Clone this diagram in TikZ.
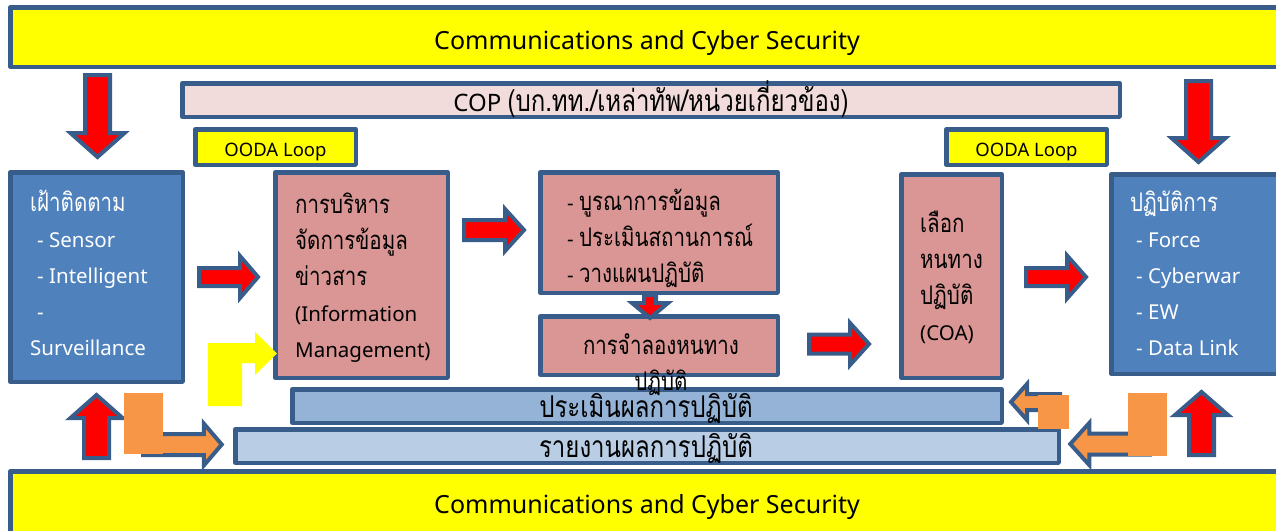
\documentclass[tikz,border=0pt]{standalone}
\usepackage{fontspec}
\setmainfont{Noto Sans}
\newfontfamily\thai[Script=Thai, Scale=1.25, FakeStretch=0.8]{Loma}
\usetikzlibrary{calc}

\definecolor{edge}{HTML}{385D8A}
\definecolor{boxblue}{HTML}{4F81BD}
\definecolor{rose}{HTML}{D99694}
\definecolor{blush}{HTML}{F2DCDB}
\definecolor{barmid}{HTML}{95B3D7}
\definecolor{barlight}{HTML}{B9CDE5}
\definecolor{amber}{HTML}{F79646}
\definecolor{signal}{HTML}{FF0000}
\definecolor{lemon}{HTML}{FFFF00}

% block arrow: [style]{start}{tip}{shaft half width}{head half width}{head length}
\newcommand\blockarrow[6][]{%
  \coordinate (ba-base) at ($(#3)!#6!(#2)$);
  \path[#1] ($(#2)!#4!90:(#3)$) -- ($(ba-base)!#4!-90:(#2)$)
    -- ($(ba-base)!#5!-90:(#2)$) -- (#3) -- ($(ba-base)!#5!90:(#2)$)
    -- ($(ba-base)!#4!90:(#2)$) -- ($(#2)!#4!-90:(#3)$) -- cycle;}

\tikzset{
  panel/.style={rectangle, draw=edge, line width=4.5pt, line join=round, inner sep=0pt},
  strip/.style={panel, fill=lemon},
  redarrow/.style={draw=edge, fill=signal, line width=4pt, line join=miter},
  orangearrow/.style={draw=edge, fill=amber, line width=4pt, line join=miter},
  body/.style={inner sep=0pt, align=left, anchor=north west,
    font=\fontsize{20.5}{36}\selectfont},
  caption/.style={inner sep=0pt, anchor=base},
}
\newcommand\lead{\rule{0pt}{34pt}}

\begin{document}
\begin{tikzpicture}[x=1pt,y=-1pt]
\useasboundingbox (0,0) rectangle (1276,530);
\clip (0,0) rectangle (1276,530);

% bands and boxes
\node[strip, minimum width=1273.5pt, minimum height=59.5pt] (topbar) at (647,37) {};
\node[strip, minimum width=1273.5pt, minimum height=69.5pt] (botbar) at (647,506) {};
\node[panel, fill=blush, minimum width=937.5pt, minimum height=33.5pt] (cop) at (651,100) {};
\node[strip, minimum width=160.5pt, minimum height=35.5pt] (oodaL) at (275.5,147) {};
\node[strip, minimum width=160.5pt, minimum height=35.5pt] (oodaR) at (1026.5,147) {};
\node[panel, fill=boxblue, minimum width=172.5pt, minimum height=209.5pt] (sense) at (96.5,277) {};
\node[panel, fill=rose, minimum width=172.5pt, minimum height=205.5pt] (info) at (361.5,275) {};
\node[panel, fill=rose, minimum width=237.5pt, minimum height=120.5pt] (fusion) at (659,232.5) {};
\node[panel, fill=rose, minimum width=237.5pt, minimum height=58.5pt] (simul) at (659,345.5) {};
\node[panel, fill=rose, minimum width=100.5pt, minimum height=203.5pt] (coa) at (951.5,276) {};
\node[panel, fill=boxblue, minimum width=173.5pt, minimum height=199.5pt] (act) at (1198,274) {};
\node[panel, fill=barmid, minimum width=709.5pt, minimum height=33.5pt] (evalbar) at (647,406) {};
\node[panel, fill=barlight, minimum width=823.5pt, minimum height=33.5pt] (reportbar) at (647,446) {};

% arrow end points
\coordinate (dL1) at ($(sense.north)+(1,-95)$);
\coordinate (dL2) at ($(sense.north)+(1,-13)$);
\coordinate (dR1) at ($(act.north)+(0.5,-91)$);
\coordinate (dR2) at ($(act.north)+(0.5,-10)$);
\coordinate (uL1) at ($(sense.south)+(0,74)$);
\coordinate (uL2) at ($(sense.south)+(0,11)$);
\coordinate (uR1) at ($(act.south)+(3.5,79)$);
\coordinate (uR2) at ($(act.south)+(3.5,16)$);
\coordinate (a1s) at ($(sense.east)+(14,0)$);
\coordinate (a1e) at ($(info.west)+(-15,2)$);
\coordinate (a2s) at ($(info.east |- fusion.west)+(14,-2.5)$);
\coordinate (a2e) at ($(fusion.west)+(-14,-2.5)$);
\coordinate (a3s) at ($(simul.east)+(29,-1.5)$);
\coordinate (a3e) at ($(coa.west |- simul.east)+(-30,-1.5)$);
\coordinate (a4s) at ($(coa.east)+(22,1)$);
\coordinate (a4e) at ($(act.west)+(-23,3)$);
\coordinate (dnS) at ($(fusion.south)+(-9,0)$);
\coordinate (dnE) at ($(simul.north)+(-9,4)$);
\coordinate (oLs) at (143,444.5);
\coordinate (oLe) at ($(reportbar.west)+(-11.25,-1.5)$);
\coordinate (oUs) at (1060,402);
\coordinate (oUe) at ($(evalbar.east)+(7,-4)$);
\coordinate (oDs) at (1150,444);
\coordinate (oDe) at ($(reportbar.east)+(9.25,-2)$);

% red block arrows
\blockarrow[redarrow]{dL1}{dL2}{12.5pt}{27pt}{24pt}
\blockarrow[redarrow]{dR1}{dR2}{12.5pt}{27pt}{24pt}
\blockarrow[redarrow]{uL1}{uL2}{12.5pt}{26pt}{23pt}
\blockarrow[redarrow]{uR1}{uR2}{12.5pt}{26.5pt}{23pt}
\blockarrow[redarrow]{a1s}{a1e}{9pt}{21pt}{18pt}
\blockarrow[redarrow]{a2s}{a2e}{10pt}{21pt}{19pt}
\blockarrow[redarrow]{a3s}{a3e}{9.5pt}{21pt}{19pt}
\blockarrow[redarrow]{a4s}{a4e}{9pt}{21.5pt}{19pt}
\blockarrow[redarrow]{dnS}{dnE}{6pt}{18pt}{15pt}

% orange feedback arrows
\blockarrow[orangearrow]{oLs}{oLe}{10.5pt}{21pt}{18pt}
\fill[amber] (124,393) rectangle (163,454);
\blockarrow[orangearrow]{oUs}{oUe}{8pt}{18pt}{16pt}
\fill[amber] (1038,395) rectangle (1069,429);
\blockarrow[orangearrow]{oDs}{oDe}{10.5pt}{21pt}{19pt}
\fill[amber] (1128,393) rectangle (1167,456);

% yellow bent arrow into information management
\fill[lemon] (208,406) -- (208,343) -- (255,343) -- (255,332) -- (277,353.5)
  -- (255,375) -- (255,363) -- (242,363) -- (242,406) -- cycle;

% texts
\node[caption, font=\fontsize{25}{30}\selectfont] (toptext) at (647,49) {Communications and Cyber Security};
\node[caption, font=\fontsize{25}{30}\selectfont] (bottext) at (647,513) {Communications and Cyber Security};
\node[caption, font=\fontsize{24}{28}\selectfont] (coptext) at (651,111) {COP {\thai(บก.ทท./เหล่าทัพ/หน่วยเกี่ยวข้อง)}};
\node[caption, font=\fontsize{18.5}{22}\selectfont] (oodaLtext) at (275.5,156) {OODA Loop};
\node[caption, font=\fontsize{18.5}{22}\selectfont] (oodaRtext) at (1026.5,156) {OODA Loop};

\node[body, text=white] (sensetext) at (30,177)
  {\lead{\thai เฝ้าติดตาม}\\\hspace*{7pt}- Sensor\\\hspace*{7pt}- Intelligent\\\hspace*{7pt}-\\Surveillance};
\node[body] (infotext) at (295,179)
  {\lead{\thai การบริหาร}\\{\thai จัดการข้อมูล}\\{\thai ข่าวสาร}\\(Information\\Management)};
\node[body] (fusiontext) at (567,176)
  {\lead- {\thai บูรณาการข้อมูล}\\- {\thai ประเมินสถานการณ์}\\- {\thai วางแผนปฏิบัติ}};
\node[body, align=center, anchor=north] (simultext) at (661,320)
  {\lead{\thai การจำลองหนทาง}\\{\thai ปฏิบัติ}};
\node[body] (coatext) at (920,198)
  {\lead{\thai เลือก}\\{\thai หนทาง}\\{\thai ปฏิบัติ}\\(COA)};
\node[body, text=white] (acttext) at (1130,177)
  {\lead{\thai ปฏิบัติการ}\\\hspace*{6pt}- Force\\\hspace*{6pt}- Cyberwar\\\hspace*{6pt}- EW\\\hspace*{6pt}- Data Link};

\node[caption, font=\fontsize{24}{28}\selectfont] (evaltext) at (646,417) {\thai ประเมินผลการปฏิบัติ};
\node[caption, font=\fontsize{24}{28}\selectfont] (reporttext) at (646,457) {\thai รายงานผลการปฏิบัติ};
\end{tikzpicture}
\end{document}
